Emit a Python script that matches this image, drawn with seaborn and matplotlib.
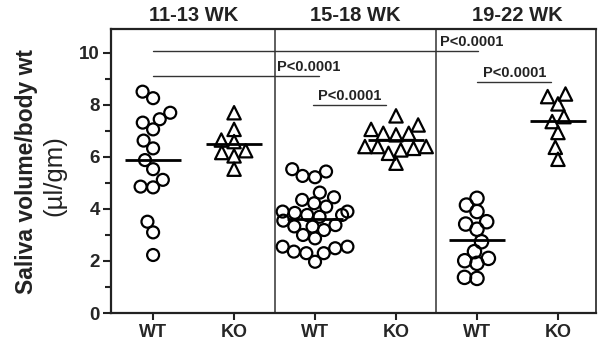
import numpy as np
import pandas as pd
import matplotlib
matplotlib.use("Agg")
import matplotlib.pyplot as plt
import seaborn as sns
from matplotlib.ticker import MultipleLocator

# ---- data ----
categories = ["11-13 WT", "11-13 KO", "15-18 WT", "15-18 KO", "19-22 WT", "19-22 KO"]
tick_labels = ["WT", "KO", "WT", "KO", "WT", "KO"]
group_titles = ["11-13 WK", "15-18 WK", "19-22 WK"]

wt_1113 = [8.51, 8.26, 7.70, 7.32, 7.45, 7.06, 6.63, 6.33, 5.88, 5.53, 5.12, 4.83, 4.86, 3.51, 3.10, 2.23]
ko_1113 = [7.70, 7.06, 6.59, 6.65, 6.17, 6.24, 6.04, 5.53]
wt_1518 = [5.53, 5.22, 5.27, 5.44, 4.63, 4.45, 4.35, 4.09, 4.22, 3.90, 3.90, 3.85, 3.77, 3.77,
           3.70, 3.55, 3.38, 3.19, 3.32, 3.33, 3.00, 2.87, 2.55, 2.55, 2.49, 2.36, 2.30, 2.30, 1.97]
ko_1518 = [7.58, 7.23, 7.06, 6.91, 6.91, 6.85, 6.27, 6.40, 6.40, 6.40, 6.14, 6.33, 5.76]
wt_1922 = [4.41, 4.15, 3.90, 3.51, 3.42, 3.22, 2.74, 2.36, 2.10, 1.91, 2.01, 1.33, 1.37]
ko_1922 = [8.42, 8.32, 8.04, 7.36, 7.55, 6.94, 6.37, 5.91]

p_text = "P<0.0001"

series = [wt_1113, ko_1113, wt_1518, ko_1518, wt_1922, ko_1922]
df = pd.DataFrame({
    "cat": np.concatenate([[c] * len(v) for c, v in zip(categories, series)]),
    "val": np.concatenate(series),
})
df["geno"] = df["cat"].str.split(" ").str[1]

sns.set_theme(style="ticks")
plt.rcParams["font.family"] = ["Liberation Sans", "DejaVu Sans"]
plt.rcParams["font.weight"] = "bold"

fig = plt.figure(figsize=(5.98, 3.45), dpi=100)
ax = fig.add_axes([111 / 598, 32 / 345, (596 - 111) / 598, (313 - 29) / 345])
ax.set_xlim(-0.52, 5.47)
ax.set_ylim(0, 10.92)

# swarm layout computed with a tighter packing size, then markers shown at full size
marker_specs = [("WT", "o", 7.0, 8.6), ("KO", "^", 7.2, 9.6)]
for geno, mk, lay_size, _ in marker_specs:
    sns.swarmplot(data=df[df["geno"] == geno], x="cat", y="val", order=categories,
                  marker=mk, color="white", edgecolor="black", linewidth=1.6,
                  size=lay_size, ax=ax, zorder=3)
ax.set_xlim(-0.52, 5.47)
ax.set_ylim(0, 10.92)
fig.canvas.draw()
colls = list(ax.collections)
for coll in colls:
    if "draw" in coll.__dict__:
        del coll.draw
    coll.set_facecolor("none")
    coll.set_linewidth(1.6)
n_wt = sum(1 for c in categories if c.endswith("WT"))
for i, coll in enumerate(colls):
    show = marker_specs[0][3] if i < n_wt else marker_specs[1][3]
    coll.set_sizes([show ** 2])

# mean lines
means = df.groupby("cat")["val"].mean().reindex(categories)
xpos = np.arange(len(categories))
ax.hlines(means.values, xpos - 0.35, xpos + 0.35, color="black", lw=2, zorder=4)

ax.set_xlim(-0.52, 5.47)
ax.set_ylim(0, 10.92)
ax.set_xticks(xpos)
ax.set_xticklabels(tick_labels, fontsize=13, fontweight="bold")
ax.yaxis.set_major_locator(MultipleLocator(2))
ax.yaxis.set_minor_locator(MultipleLocator(1))
ax.tick_params(axis="y", which="major", length=6, width=1.5, labelsize=13.5, pad=2, color="#222")
ax.tick_params(axis="y", which="minor", length=4, width=1.5, color="#222")
ax.tick_params(axis="x", which="major", length=5, width=1.5, pad=3, color="#222")
for lab in ax.get_yticklabels():
    lab.set_fontweight("bold")
ax.set_xlabel("")
ax.set_ylabel("")

# y-axis title (two lines)
fig.text(27 / 598, 1 - 171.5 / 345, "Saliva volume/body wt", rotation=90, ha="center", va="center",
         fontsize=16.5, fontweight="bold", color="#222")
fig.text(54 / 598, 1 - 176 / 345, "(µl/gm)", rotation=90, ha="center", va="center",
         fontsize=18.5, fontweight="normal", color="#222")

for s in ["left", "bottom", "top"]:
    ax.spines[s].set_linewidth(1.6)
    ax.spines[s].set_color("#222")
ax.spines["right"].set_visible(True)
ax.spines["right"].set_linewidth(1.2)
ax.spines["right"].set_color("#222")

# group dividers
for xd in [1.5, 3.5]:
    ax.axvline(xd, color="#333", lw=1.1, zorder=1)

# group titles
for i, t in enumerate(group_titles):
    ax.text(2 * i + 0.5, 1.015, t, transform=ax.get_xaxis_transform(), ha="center", va="bottom",
            fontsize=14.5, fontweight="bold", color="#222")

# significance brackets
brackets = [  # (x0, x1, y, text_x, text_y, ha)
    (0, 4.01, 10.08, 3.54, 10.14, "left"),
    (0, 2.05, 9.12, 1.53, 9.18, "left"),
    (1.98, 2.88, 8.0, 2.43, 8.06, "center"),
    (4.0, 4.91, 8.9, 4.46, 8.96, "center"),
]
for x0, x1, y, tx, ty, ha in brackets:
    ax.plot([x0, x1], [y, y], color="#333", lw=1.0, zorder=2)
    ax.text(tx, ty, p_text, ha=ha, va="bottom", fontsize=10.5, fontweight="bold", color="#222")

fig.savefig("out.png", dpi=100, facecolor="white")
